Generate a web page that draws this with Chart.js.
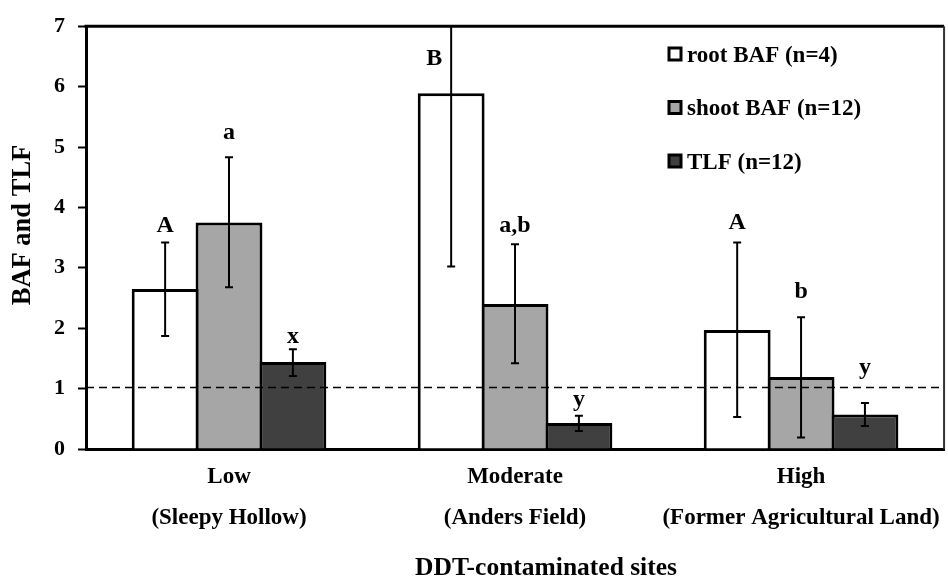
<!DOCTYPE html>
<html>
<head>
<meta charset="utf-8">
<script src="https://cdn.jsdelivr.net/npm/chart.js@4.4.1/dist/chart.umd.min.js"></script>
<style>
    html, body { margin: 0; padding: 0; background: #FFFFFF; }
</style>
</head>
<body>
<canvas id="bafChart" width="948" height="578"></canvas>
<script>
// ----- data -----
const sites = [
    ['Low', '(Sleepy Hollow)'],
    ['Moderate', '(Anders Field)'],
    ['High', '(Former Agricultural Land)']
];
const seriesNames = ['root BAF (n=4)', 'shoot BAF (n=12)', 'TLF (n=12)'];

const rootBAF = [2.65, 5.89, 1.97];
const shootBAF = [3.75, 2.40, 1.19];
const tlfValues = [1.44, 0.43, 0.57];

// error bar ends (low / high)
const rootLow = [1.87, 3.02, 0.53];
const rootHigh = [3.42, 8.76, 3.42];
const shootLow = [2.68, 1.42, 0.19];
const shootHigh = [4.83, 3.39, 2.18];
const tlfLow = [1.21, 0.30, 0.38];
const tlfHigh = [1.65, 0.55, 0.76];

// significance letters and their baseline (in y units)
const rootLetters = ['A', 'B', 'A'];
const shootLetters = ['a', 'a,b', 'b'];
const tlfLetters = ['x', 'y', 'y'];
const rootLetterY = [3.60, 6.36, 3.64];
const shootLetterY = [5.14, 3.60, 2.50];
const tlfLetterY = [1.75, 0.72, 1.24];

const yTicks = [0, 1, 2, 3, 4, 5, 6, 7];
const thresholdValue = 1.02;

const xTitle = 'DDT-contaminated sites';
const yTitle = 'BAF and TLF';

// ----- style -----
const FONT_FAMILY = "'Liberation Serif', 'Times New Roman', serif";
const serifBold = (size) => ({ family: FONT_FAMILY, size: size, weight: 'bold' });
const fillColors = ['#FFFFFF', '#A6A6A6', '#404040'];

const errorLows = [rootLow, shootLow, tlfLow];
const errorHighs = [rootHigh, shootHigh, tlfHigh];
const letters = [rootLetters, shootLetters, tlfLetters];
const letterYs = [rootLetterY, shootLetterY, tlfLetterY];

// error bars, letters, dashed threshold, frame, titles, legend
const annotationPlugin = {
    id: 'annotations',
    afterDatasetsDraw(chart) {
        const ctx = chart.ctx;
        const area = chart.chartArea;
        const y = chart.scales.y;

        // dashed threshold line
        ctx.save();
        ctx.strokeStyle = '#000000';
        ctx.lineWidth = 1.5;
        ctx.setLineDash([8, 5]);
        ctx.beginPath();
        ctx.moveTo(area.left, y.getPixelForValue(thresholdValue));
        ctx.lineTo(area.right, y.getPixelForValue(thresholdValue));
        ctx.stroke();
        ctx.restore();

        // error bars (clipped to plot area)
        ctx.save();
        ctx.beginPath();
        ctx.rect(area.left, area.top, area.right - area.left, area.bottom - area.top);
        ctx.clip();
        ctx.strokeStyle = '#000000';
        ctx.lineWidth = 2;
        chart.data.datasets.forEach((ds, i) => {
            chart.getDatasetMeta(i).data.forEach((bar, j) => {
                const yLo = y.getPixelForValue(errorLows[i][j]);
                const yHi = y.getPixelForValue(errorHighs[i][j]);
                ctx.beginPath();
                ctx.moveTo(bar.x, yLo);
                ctx.lineTo(bar.x, yHi);
                ctx.moveTo(bar.x - 4, yLo);
                ctx.lineTo(bar.x + 4, yLo);
                ctx.moveTo(bar.x - 4, yHi);
                ctx.lineTo(bar.x + 4, yHi);
                ctx.stroke();
            });
        });
        ctx.restore();

        // letters (moved aside when the error bar runs through them)
        ctx.save();
        ctx.fillStyle = '#000000';
        ctx.font = 'bold 24px ' + FONT_FAMILY;
        ctx.textAlign = 'center';
        ctx.textBaseline = 'alphabetic';
        chart.data.datasets.forEach((ds, i) => {
            chart.getDatasetMeta(i).data.forEach((bar, j) => {
                const shift = errorHighs[i][j] > letterYs[i][j] ? -17 : 0;
                ctx.fillText(letters[i][j], bar.x + shift, y.getPixelForValue(letterYs[i][j]));
            });
        });
        ctx.restore();
    },
    afterDraw(chart) {
        const ctx = chart.ctx;
        const area = chart.chartArea;

        // top and right frame
        ctx.save();
        ctx.strokeStyle = '#000000';
        ctx.lineWidth = 3;
        ctx.beginPath();
        ctx.moveTo(area.left - 1.5, area.top);
        ctx.lineTo(area.right, area.top);
        ctx.stroke();
        ctx.strokeStyle = '#333333';
        ctx.lineWidth = 2;
        ctx.beginPath();
        ctx.moveTo(area.right, area.top);
        ctx.lineTo(area.right, area.bottom);
        ctx.stroke();
        ctx.restore();

        // axis titles
        ctx.save();
        ctx.fillStyle = '#000000';
        ctx.textAlign = 'center';
        ctx.textBaseline = 'alphabetic';
        ctx.font = 'bold 25.5px ' + FONT_FAMILY;
        ctx.fillText(xTitle, 546, 575);
        ctx.font = 'bold 26.5px ' + FONT_FAMILY;
        ctx.translate(30, 225);
        ctx.rotate(-Math.PI / 2);
        ctx.fillText(yTitle, 0, 0);
        ctx.restore();

        // legend
        ctx.save();
        ctx.font = 'bold 23px ' + FONT_FAMILY;
        ctx.textBaseline = 'alphabetic';
        ctx.textAlign = 'left';
        chart.data.datasets.forEach((ds, i) => {
            const rowY = 54 + i * 53.5;
            ctx.fillStyle = ds.backgroundColor;
            ctx.fillRect(669, rowY - 6, 12, 12);
            ctx.strokeStyle = '#000000';
            ctx.lineWidth = 3;
            ctx.strokeRect(669, rowY - 6, 12, 12);
            ctx.fillStyle = '#000000';
            ctx.fillText(ds.label, 687, rowY + 7.5);
        });
        ctx.restore();
    }
};

const datasets = [rootBAF, shootBAF, tlfValues].map((values, i) => ({
    label: seriesNames[i],
    data: values,
    backgroundColor: fillColors[i],
    borderColor: '#000000',
    borderWidth: 3,
    borderSkipped: 'bottom',
    categoryPercentage: 0.67,
    barPercentage: 1.047
}));

new Chart(document.getElementById('bafChart'), {
    type: 'bar',
    data: {
        labels: sites,
        datasets: datasets
    },
    options: {
        responsive: false,
        animation: false,
        layout: { padding: { top: 18, right: 2, left: 0, bottom: 0 } },
        plugins: {
            legend: { display: false },
            tooltip: { enabled: false }
        },
        scales: {
            x: {
                grid: { display: false, drawTicks: false },
                border: { color: '#000000', width: 3 },
                ticks: {
                    color: '#000000',
                    font: { ...serifBold(23), lineHeight: 1.78 },
                    padding: 8,
                    maxRotation: 0,
                    autoSkip: false
                },
                afterFit(scale) { scale.height = 129; }
            },
            y: {
                min: 0,
                max: 7,
                afterBuildTicks(scale) {
                    scale.ticks = yTicks.map(v => ({ value: v }));
                },
                grid: {
                    drawOnChartArea: false,
                    drawTicks: true,
                    tickLength: 8,
                    tickWidth: 2,
                    tickColor: '#000000'
                },
                border: { color: '#000000', width: 3 },
                ticks: {
                    color: '#000000',
                    font: serifBold(22),
                    padding: 13
                },
                afterFit(scale) { scale.width = 86; }
            }
        }
    },
    plugins: [annotationPlugin]
});
</script>
</body>
</html>
